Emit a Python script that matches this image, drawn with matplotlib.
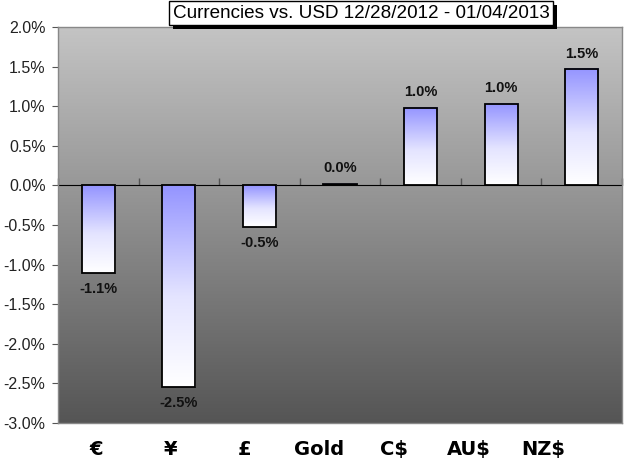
import numpy as np
import matplotlib
matplotlib.use("Agg")
from matplotlib import pyplot as plt
from matplotlib import patheffects as pe
from matplotlib.colors import LinearSegmentedColormap

categories = ["€", "¥", "£", "Gold", "C$", "AU$", "NZ$"]
changes = [-1.11, -2.55, -0.53, 0.02, 0.98, 1.03, 1.47]  # percent
title = "Currencies vs. USD 12/28/2012 - 01/04/2013"

ymin, ymax = -3.0, 2.0

fig = plt.figure(figsize=(6.24, 4.59), dpi=100)
fig.patch.set_facecolor("white")
ax = fig.add_axes([58/624, 36/459, 564/624, 396/459])

x = np.arange(len(categories))
ax.set_xlim(-0.5, len(categories) - 0.5)
ax.set_ylim(ymin, ymax)

# plot area gradient
bg = LinearSegmentedColormap.from_list("bg", ["#c4c4c4", "#555555"])
grad = np.linspace(0, 1, 256).reshape(-1, 1)
ax.imshow(grad, cmap=bg, aspect="auto", extent=(-0.5, len(categories) - 0.5, ymin, ymax),
          origin="upper", zorder=0)

# bars: blue at the top fading to white at the bottom
barcm = LinearSegmentedColormap.from_list("bar", [(0, "#9494ff"), (0.55, "#e4e4ff"), (1, "#ffffff")])
bars = ax.bar(x, changes, width=0.41, facecolor="none", edgecolor="black", linewidth=1.3, zorder=3)
for b in bars:
    y0, y1 = sorted([b.get_y(), b.get_y() + b.get_height()])
    ax.imshow(grad, cmap=barcm, aspect="auto", origin="upper",
              extent=(b.get_x(), b.get_x() + b.get_width(), y0, y1), zorder=2)

for xi, v in zip(x, changes):
    off, va = (6, "bottom") if v >= 0 else (-6, "top")
    ax.annotate(f"{v:.1f}%", (xi, v), xytext=(0, off), textcoords="offset points",
                ha="center", va=va, fontsize=10.5, fontweight="bold",
                family="Liberation Sans", color="#111111", zorder=4)

# y axis
yt = np.arange(ymin, ymax + 0.01, 0.5)
ax.set_yticks(yt)
ax.set_yticklabels([f"{t:.1f}%" for t in yt], family="Liberation Sans", fontsize=11.5, color="#222222")
ax.tick_params(axis="y", direction="out", length=4, color="#555555", pad=5)

# category labels along the bottom (a bit narrower than the bar spacing, as in the source)
ax.set_xticks(x * 0.925 - 0.03)
ax.set_xticklabels(categories, family="DejaVu Sans", fontweight="bold", fontsize=14)
ax.tick_params(axis="x", length=0, pad=12)

# zero axis with tick marks between categories
zero = (0 - ymin) / (ymax - ymin)
sec = ax.secondary_xaxis(zero)
sec.set_xticks(np.arange(len(categories) + 1) - 0.5)
sec.set_xticklabels([])
sec.tick_params(direction="out", length=5, color="#555555", width=1)
sec.spines["bottom"].set_color("#666666")
sec.spines["bottom"].set_linewidth(1.2)

for s in ax.spines.values():
    s.set_color("#888888")
    s.set_linewidth(1)

t = fig.text(361/624, 1 - 13/459, title, ha="center", va="center",
             family="Liberation Sans", fontsize=13.6, color="black",
             bbox=dict(boxstyle="square,pad=0.2", facecolor="white", edgecolor="black", linewidth=1))
t.get_bbox_patch().set_path_effects([pe.SimplePatchShadow(offset=(3, -3), shadow_rgbFace="black", alpha=1),
                                     pe.Normal()])

plt.savefig("out.png", dpi=100)
